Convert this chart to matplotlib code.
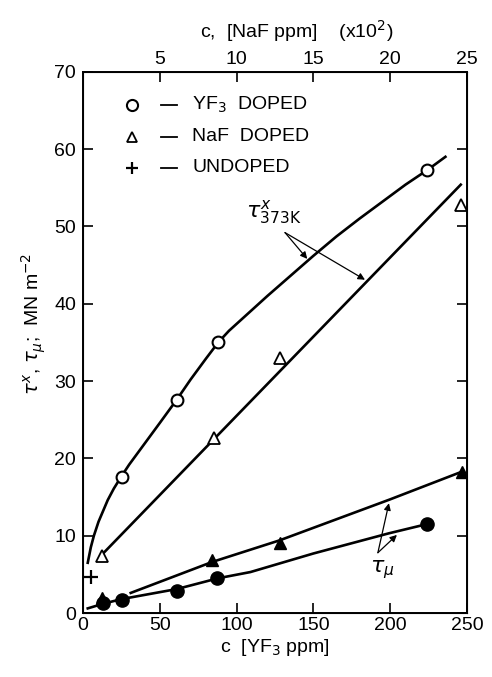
import matplotlib
matplotlib.use("Agg")
import matplotlib.pyplot as plt

plt.rcParams['font.family'] = ['Liberation Sans', 'DejaVu Sans']
plt.rcParams['mathtext.fontset'] = 'dejavusans'

# measured points (c in YF3 ppm, tau in MN m^-2)
yf3_x = [25.5, 61, 88, 224]
yf3_y = [17.6, 27.6, 35.1, 57.3]
naf_x = [12, 85, 128, 246]
naf_y = [7.4, 22.7, 33.0, 52.8]
undoped_x = [5]
undoped_y = [4.6]
mu_naf_x = [12, 84, 128, 247]
mu_naf_y = [2.0, 6.9, 9.0, 18.3]
mu_yf3_x = [13, 25.4, 61, 87, 224]
mu_yf3_y = [1.3, 1.7, 2.8, 4.5, 11.5]

# hand drawn fit curves
yf3_fit_x = [3, 5, 7, 10, 16, 20, 25, 30, 40, 50, 61, 70, 80, 88, 95, 100, 110, 120,
             135, 150, 165, 180, 195, 210, 225, 236]
yf3_fit_y = [6.5, 8.5, 10.0, 11.8, 14.6, 16.1, 17.7, 19.2, 21.9, 24.6, 27.6, 30.2, 32.9,
             35.0, 36.5, 37.4, 39.2, 41.0, 43.6, 46.2, 48.7, 51.0, 53.2, 55.4, 57.4, 59.0]
naf_fit_x = [12, 246]
naf_fit_y = [7.5, 55.4]
mu_naf_fit_x = [31, 84, 128, 200, 247]
mu_naf_fit_y = [2.6, 6.6, 9.4, 14.7, 18.3]
mu_yf3_fit_x = [3, 13, 25, 61, 88, 109, 150, 199, 224]
mu_yf3_fit_y = [0.6, 1.2, 1.8, 3.1, 4.5, 5.3, 7.7, 10.3, 11.5]

fig = plt.figure(figsize=(4.92, 6.77), dpi=100)
ax = fig.add_axes([0.169, 0.0945, 0.78, 0.7995])
ax.set_xlim(0, 250)
ax.set_ylim(0, 70)

lw = 1.9
ax.plot(yf3_fit_x, yf3_fit_y, color='black', lw=lw, zorder=2, solid_joinstyle='round')
ax.plot(naf_fit_x, naf_fit_y, color='black', lw=lw, zorder=2)
ax.plot(mu_naf_fit_x, mu_naf_fit_y, color='black', lw=lw, zorder=2, solid_joinstyle='round')
ax.plot(mu_yf3_fit_x, mu_yf3_fit_y, color='black', lw=lw, zorder=2, solid_joinstyle='round')

ax.plot(yf3_x, yf3_y, 'o', ms=8.5, mfc='white', mec='black', mew=1.5, zorder=3)
ax.plot(naf_x, naf_y, '^', ms=8, mfc='white', mec='black', mew=1.3, zorder=3)
ax.plot(undoped_x, undoped_y, '+', ms=10, mec='black', mew=1.6, zorder=3)
ax.plot(mu_yf3_x, mu_yf3_y, 'o', ms=9.5, color='black', zorder=3)
ax.plot(mu_naf_x, mu_naf_y, '^', ms=8, color='black', zorder=4)

# legend written out by hand
fs = 14
leg_y = [65.7, 61.6, 57.6]
ax.plot([32], [leg_y[0]], 'o', ms=8, mfc='white', mec='black', mew=1.5)
ax.plot([32], [leg_y[1]], '^', ms=7, mfc='white', mec='black', mew=1.3)
ax.plot([32], [leg_y[2]], '+', ms=9, mec='black', mew=1.6)
for yy in leg_y:
    ax.plot([51, 61], [yy, yy], color='black', lw=1.3)
ax.text(71, leg_y[0], r'YF$_3$  DOPED', fontsize=fs, va='center')
ax.text(71, leg_y[1], 'NaF  DOPED', fontsize=fs, va='center')
ax.text(71, leg_y[2], 'UNDOPED', fontsize=fs, va='center')

# annotations
arw = dict(arrowstyle='-|>', color='black', lw=0.9, mutation_scale=10, shrinkA=0, shrinkB=0)
ax.text(106, 51.8, r'$\tau^{x}_{\mathrm{373K}}$', fontsize=16, va='center')
ax.annotate('', xy=(146, 45.8), xytext=(131.5, 49.2), arrowprops=arw)
ax.annotate('', xy=(183.6, 43.1), xytext=(131.5, 49.2), arrowprops=arw)
ax.text(194.6, 5.6, r'$\tau_{\mu}$', fontsize=16, ha='center', va='center')
ax.annotate('', xy=(199.2, 14.2), xytext=(192, 7.8), arrowprops=arw)
ax.annotate('', xy=(204.4, 10.1), xytext=(192, 7.8), arrowprops=arw)

ax.set_xticks([0, 50, 100, 150, 200, 250])
ax.set_yticks([0, 10, 20, 30, 40, 50, 60, 70])
ax.tick_params(direction='in', length=7.5, width=1.2, labelsize=fs, pad=5,
               top=False, right=True)
ax.tick_params(axis='x', pad=3)
for s in ax.spines.values():
    s.set_linewidth(1.4)

ax.set_xlabel(r'c  [YF$_3$ ppm]', fontsize=fs, labelpad=2)
ax.set_ylabel(r'$\tau^{x}$, $\tau_{\mu}$;  MN m$^{-2}$', fontsize=fs)
ax.yaxis.set_label_coords(-0.092, 0.535)

top = ax.twiny()
top.set_xlim(0, 25)
top.set_xticks([5, 10, 15, 20, 25])
top.tick_params(direction='in', length=7.5, width=1.2, labelsize=fs, pad=3)
top.set_xlabel(r'c,  [NaF ppm]    (x10$^2$)', fontsize=fs)
top.xaxis.set_label_coords(0.557, 1.062)

fig.savefig('out.png', dpi=100)
